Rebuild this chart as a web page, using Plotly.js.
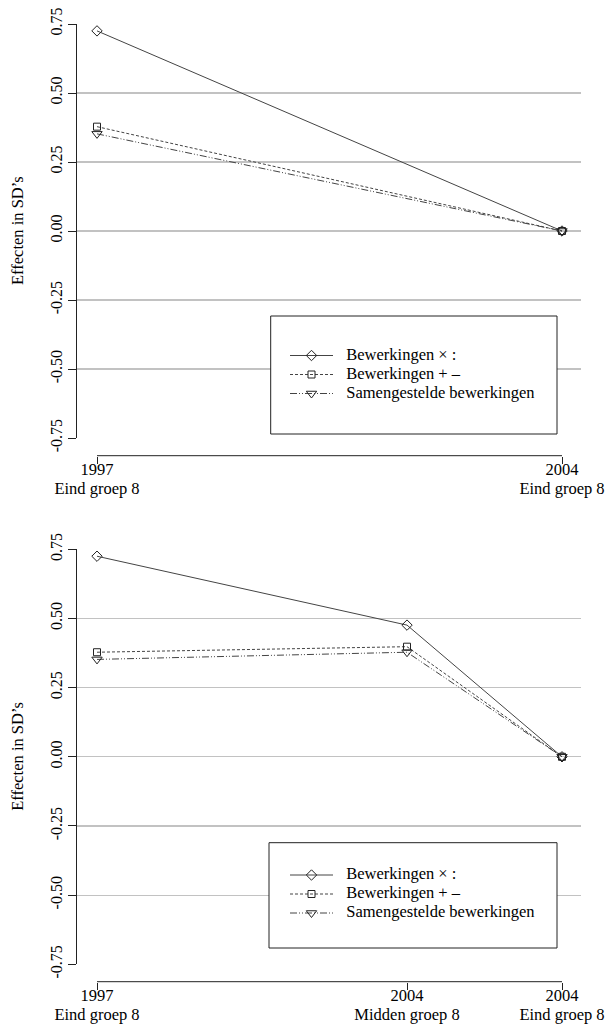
<!DOCTYPE html>
<html><head><meta charset="utf-8">
<script src="https://cdn.plot.ly/plotly-3.0.1.min.js"></script>
<style>html,body{margin:0;padding:0;background:#fff}#chart{width:607px;height:1028px}</style>
</head><body><div id="chart"></div>
<script>
// ---- data ----
const seriesNames = ['Bewerkingen × :', 'Bewerkingen + –', 'Samengestelde bewerkingen'];

const topPositions = [0, 3];
const topYears = ['1997', '2004'];
const topMoments = ['Eind groep 8', 'Eind groep 8'];
const topMult = [0.725, 0.0];
const topPlusMin = [0.378, 0.0];
const topSamen = [0.352, 0.0];

const bottomPositions = [0, 2, 3];
const bottomYears = ['1997', '2004', '2004'];
const bottomMoments = ['Eind groep 8', 'Midden groep 8', 'Eind groep 8'];
const bottomMult = [0.725, 0.476, 0.0];
const bottomPlusMin = [0.378, 0.398, 0.0];
const bottomSamen = [0.352, 0.378, 0.0];

const yTicks = [-0.75, -0.5, -0.25, 0, 0.25, 0.5, 0.75];
const yTickLabels = ['-0.75', '-0.50', '-0.25', '0.00', '0.25', '0.50', '0.75'];
const yTitle = 'Effecten in SD’s';

// ---- styling ----
const W = 607, H = 1028;
const px = v => v / W;
const py = v => 1 - v / H;
const FONT = "'Liberation Serif', 'Times New Roman', serif";
const INK = '#222';
const LINE = '#444';
const big = t => '<span style="font-size:16.5px">' + t + '</span>';

const styles = [
  {dash: 'solid', symbol: 'diamond-open', size: 8},
  {dash: '3px,2px', symbol: 'square-open', size: 7},
  {dash: '7px,2px,1px,2px,1px,2px', symbol: 'triangle-down-open', size: 9}
];

function mkTraces(xs, seriesList, xa, ya, legendId) {
  return seriesList.map((ys, i) => ({
    type: 'scatter', mode: 'lines+markers',
    x: xs, y: ys, xaxis: xa, yaxis: ya, legend: legendId,
    name: big('&nbsp;&nbsp;' + seriesNames[i]),
    line: {color: LINE, width: 1, dash: styles[i].dash},
    marker: {symbol: styles[i].symbol, size: styles[i].size, color: INK, line: {color: INK, width: 1}},
    hoverinfo: 'skip'
  }));
}

const data = [
  ...mkTraces(topPositions, [topMult, topPlusMin, topSamen], 'x', 'y', 'legend'),
  ...mkTraces(bottomPositions, [bottomMult, bottomPlusMin, bottomSamen], 'x2', 'y2', 'legend2')
];

const unit = (562 - 97) / 3; // pixels per position unit
const xRange = [(77 - 97) / unit, 3 + (581 - 562) / unit];

function xAxis(pos, vals, years, moments) {
  return {
    domain: [px(77), px(581)], range: xRange, anchor: 'free', position: py(pos),
    tickvals: vals, ticktext: years.map((y, i) => big(y) + '<br>' + big(moments[i])),
    ticks: 'outside', ticklen: 7, tickwidth: 1, tickcolor: INK, ticklabelstandoff: -6,
    showline: false, showgrid: false, zeroline: false,
    tickfont: {family: FONT, size: 14.6, color: '#000'}, fixedrange: true
  };
}
function yAxis(top, bottom, anchor) {
  return {
    domain: [py(bottom), py(top)], range: [-0.75, 0.75], anchor: anchor,
    tickvals: yTicks, ticktext: yTickLabels, tickangle: -90,
    ticks: 'outside', ticklen: 8, tickwidth: 1, tickcolor: INK,
    showline: true, linecolor: INK, linewidth: 1,
    showgrid: true, gridcolor: '#c2c2c2', gridwidth: 1.2, zeroline: false,
    tickfont: {family: FONT, size: 16, color: '#000'}, fixedrange: true
  };
}

const charts = [
  {xa: 'x', top: 24, bottom: 438, axisY: 455.7, pos: topPositions, box: [270.7, 316, 557, 434], legTop: 341},
  {xa: 'x2', top: 549.3, bottom: 964.3, axisY: 981.7, pos: bottomPositions, box: [269, 842.7, 557, 948], legTop: 860.5}
];

const shapes = [];
const annotations = [];
charts.forEach(c => {
  shapes.push({type: 'line', xref: c.xa, yref: 'paper', x0: c.pos[0], x1: c.pos[c.pos.length - 1],
    y0: py(c.axisY), y1: py(c.axisY), line: {color: INK, width: 1}});
  shapes.push({type: 'rect', xref: 'paper', yref: 'paper', layer: 'above',
    x0: px(c.box[0]), x1: px(c.box[2]), y0: py(c.box[3]), y1: py(c.box[1]),
    fillcolor: '#fff', line: {color: INK, width: 1}});
  annotations.push({xref: 'paper', yref: 'paper', x: px(18), y: py((c.top + c.bottom) / 2),
    text: yTitle, textangle: -90, showarrow: false, xanchor: 'center', yanchor: 'middle',
    font: {family: FONT, size: 16.5, color: '#000'}});
});

function legend(c) {
  return {x: px(285), y: py(c.legTop), xanchor: 'left', yanchor: 'top', xref: 'paper', yref: 'paper',
    bgcolor: 'rgba(0,0,0,0)', borderwidth: 0, itemwidth: 43, tracegroupgap: 0,
    font: {family: FONT, size: 11.2, color: '#000'}};
}

const layout = {
  width: W, height: H, margin: {l: 0, r: 0, t: 0, b: 0},
  paper_bgcolor: '#fff', plot_bgcolor: 'rgba(0,0,0,0)',
  font: {family: FONT, color: '#000'},
  showlegend: true, hovermode: false,
  xaxis: xAxis(charts[0].axisY, topPositions, topYears, topMoments),
  yaxis: yAxis(charts[0].top, charts[0].bottom, 'x'),
  xaxis2: xAxis(charts[1].axisY, bottomPositions, bottomYears, bottomMoments),
  yaxis2: yAxis(charts[1].top, charts[1].bottom, 'x2'),
  legend: legend(charts[0]),
  legend2: legend(charts[1]),
  shapes: shapes,
  annotations: annotations
};

Plotly.newPlot('chart', data, layout, {staticPlot: true, displayModeBar: false});
</script>
</body></html>
